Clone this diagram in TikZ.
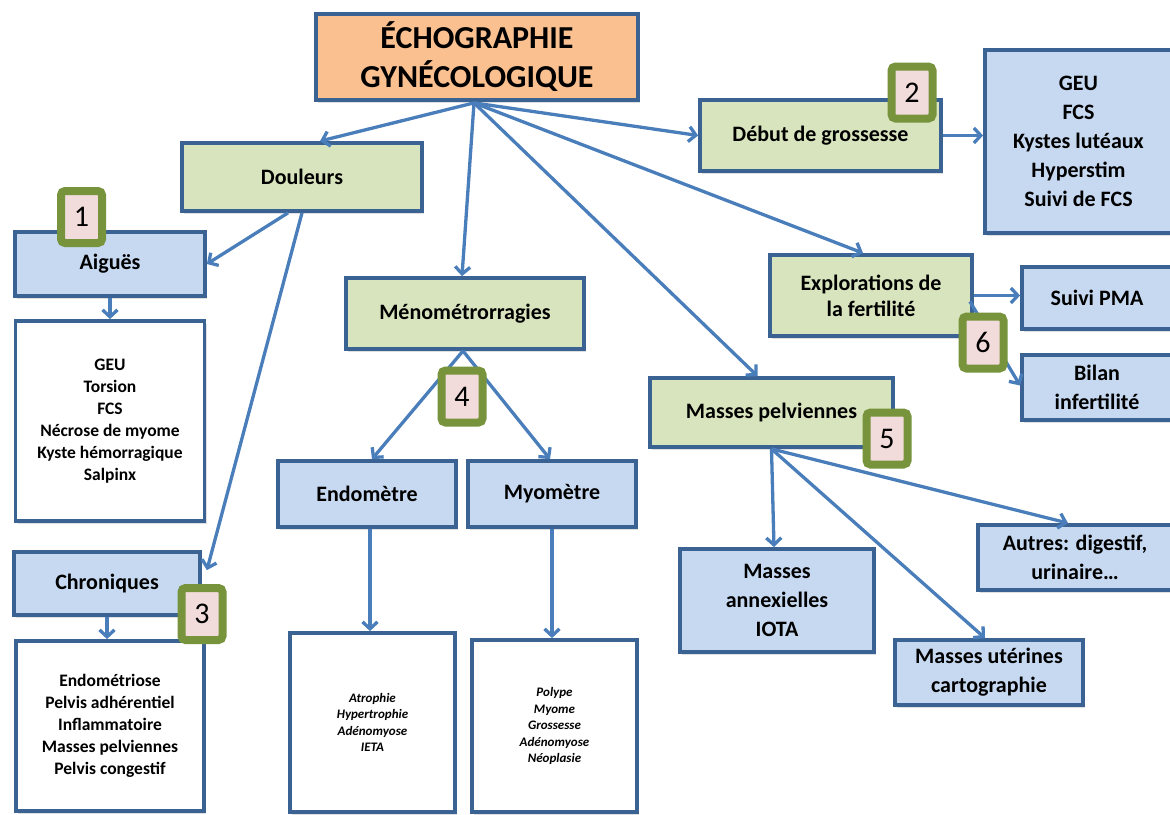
\documentclass[tikz,border=0pt]{standalone}
\usepackage{fontspec}
\setmainfont{Carlito}
\usetikzlibrary{arrows.meta,shadows,calc}
\definecolor{bord}{HTML}{3A6394}
\definecolor{arr}{HTML}{4A7EBB}
\definecolor{gfill}{HTML}{D7E4BD}
\definecolor{bfill}{HTML}{C6D9F1}
\definecolor{ofill}{HTML}{FAC090}
\definecolor{bgreen}{HTML}{77933C}
\definecolor{bpink}{HTML}{F2DCDB}
\begin{document}
\begin{tikzpicture}[x=1pt,y=-1pt,
 box/.style={draw=bord, line width=3.8pt, align=center, inner sep=0pt,
   font=\bfseries\fontsize{22}{29}\selectfont,
   drop shadow={opacity=0.25,shadow xshift=2pt,shadow yshift=-2.5pt}},
 gbox/.style={box, fill=gfill},
 bbox/.style={box, fill=bfill},
 wbox/.style={box, fill=white},
 listf/.style={font=\bfseries\fontsize{17.5}{22}\selectfont},
 smallf/.style={font=\bfseries\itshape\fontsize{13}{16.5}\selectfont},
 badge/.style={draw=bgreen, fill=bpink, line width=8pt, rounded corners=4pt,
   minimum width=41pt, minimum height=52pt, inner sep=0pt,
   font=\fontsize{30}{30}\selectfont},
 conn/.style={draw=arr, line width=3.3pt, -{Straight Barb[length=7pt,width=15pt]}}
]
\useasboundingbox (0,0) rectangle (1170,814);

% main boxes
\node[box, fill=ofill, minimum width=322, minimum height=86,
  font=\bfseries\fontsize{32}{39}\selectfont] (title) at (477,57) {ÉCHOGRAPHIE\\GYNÉCOLOGIQUE};
\node[gbox, minimum width=240, minimum height=68] (doul) at (302,177) {Douleurs};
\node[bbox, minimum width=190, minimum height=64] (aig) at (110,264) {Aiguës};
\node[wbox, listf, minimum width=189, minimum height=200] (aigL) at (110,421)
  {GEU\\Torsion\\FCS\\Nécrose de myome\\Kyste hémorragique\\Salpinx};
\node[bbox, minimum width=186, minimum height=63] (chr) at (107,583.5) {Chroniques};
\node[wbox, listf, minimum width=188, minimum height=170] (chrL) at (110,726)
  {Endométriose\\Pelvis adhérentiel\\Inflammatoire\\Masses pelviennes\\Pelvis congestif};
\node[gbox, minimum width=238, minimum height=71] (meno) at (465,313.5) {Ménométrorragies};
\node[bbox, minimum width=178, minimum height=66] (endo) at (367,494) {Endomètre};
\node[bbox, minimum width=168, minimum height=66] (myo) at (552,494) {Myomètre};
\node[wbox, smallf, minimum width=165, minimum height=179] (endoL) at (372.5,722.5)
  {Atrophie\\Hypertrophie\\Adénomyose\\IETA};
\node[wbox, smallf, minimum width=165, minimum height=172] (myoL) at (554.5,726)
  {Polype\\Myome\\Grossesse\\Adénomyose\\Néoplasie};
\node[gbox, minimum width=241, minimum height=71] (deb) at (820.5,135.5) {Début de grossesse};
\node[bbox, minimum width=187, minimum height=183] (geu) at (1078.5,141.5)
  {GEU\\FCS\\Kystes lutéaux\\Hyperstim\\Suivi de FCS};
\node[gbox, minimum width=202, minimum height=81,
  font=\bfseries\fontsize{22}{26}\selectfont] (expl) at (871,295.5) {Explorations de\\la fertilité};
\node[bbox, minimum width=150, minimum height=62] (pma) at (1097,298) {Suivi PMA};
\node[bbox, minimum width=150, minimum height=65] (bil) at (1097,387.5) {Bilan\\infertilité};
\node[gbox, minimum width=243, minimum height=69] (mas) at (771.5,412.5) {Masses pelviennes};
\node[bbox, minimum width=194, minimum height=103] (ann) at (777,600.5) {Masses\\annexielles\\IOTA};
\node[bbox, minimum width=188, minimum height=65] (ute) at (989,672.5) {Masses utérines\\cartographie};
\node[bbox, minimum width=194, minimum height=65] (aut) at (1075,557.5) {Autres: digestif,\\urinaire…};

% connectors
\coordinate (src) at ($(title.south)+(-3,1)$);
\draw[conn] (src) -- ($(doul.north)+(18,0)$);
\draw[conn] (src) -- ($(meno.north)+(-3,0)$);
\draw[conn] (src) -- (deb.west);
\draw[conn] (src) -- ($(expl.north)+(-8,0)$);
\draw[conn] (src) -- ($(mas.north)+(-14,0)$);
\draw[conn] ($(doul.south)+(-14,0)$) -- (aig.east);
\draw[conn] (doul.south) -- ($(chr.north east)+(5,20)$);
\draw[conn] (aig.south) -- (aigL.north);
\draw[conn] (chr.south) -- (chr.south |- chrL.north);
\draw[conn] ($(meno.south)+(-2,0)$) -- ($(endo.north)+(5,0)$);
\draw[conn] ($(meno.south)+(-2,0)$) -- ($(myo.north)+(-2,0)$);
\draw[conn] ($(endo.south)+(3,0)$) -- ($(endo.south |- endoL.north)+(3,0)$);
\draw[conn] (myo.south) -- (myo.south |- myoL.north);
\draw[conn] (deb.east) -- (deb.east -| geu.west);
\draw[conn] (expl.east) -- (expl.east -| pma.west);
\draw[conn] ($(expl.east)+(-4,6)$) -- ($(bil.west)+(0,-2)$);
\draw[conn] (mas.south) -- ($(ann.north)+(-3,0)$);
\draw[conn] (mas.south) -- ($(ute.north)+(-4,0)$);
\draw[conn] (mas.south) -- ($(aut.north)+(-7,0)$);

% badges
\node[badge] (b1) at (81.5,217) {1};
\node[badge] (b2) at (912,92.5) {2};
\node[badge] (b3) at (202,614) {3};
\node[badge] (b4) at (462,396.5) {4};
\node[badge] (b5) at (887,438.5) {5};
\node[badge] (b6) at (983,342.5) {6};
\end{tikzpicture}
\end{document}
